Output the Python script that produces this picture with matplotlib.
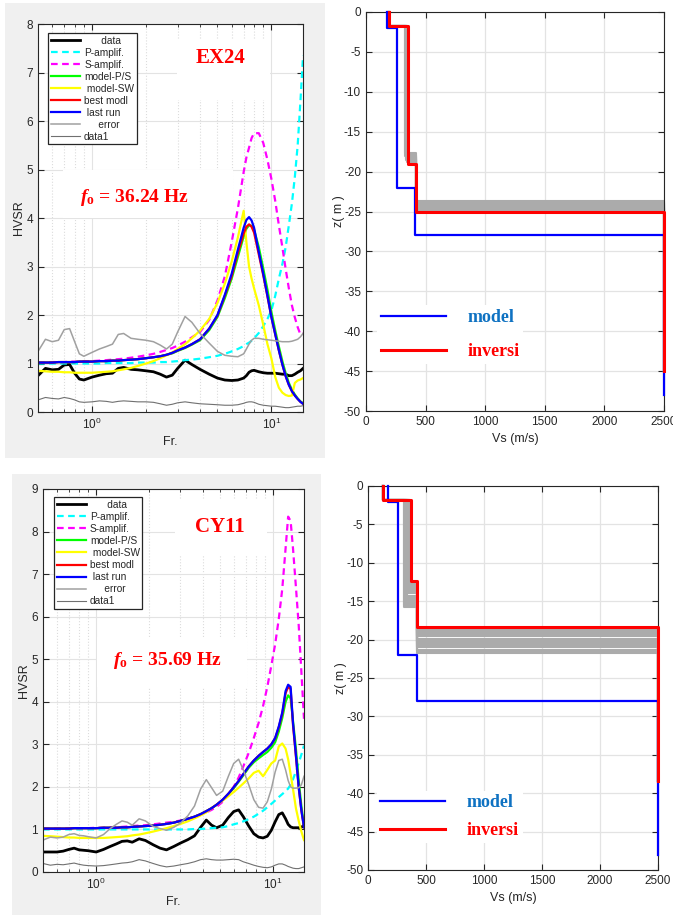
import matplotlib
matplotlib.use('Agg')
import matplotlib.pyplot as plt
from matplotlib.patches import Rectangle
from matplotlib.ticker import NullFormatter

plt.rcParams['mathtext.fontset'] = 'custom'
plt.rcParams['mathtext.rm'] = 'Liberation Serif:bold'
plt.rcParams['mathtext.it'] = 'Liberation Serif:italic:bold'
plt.rcParams['mathtext.bf'] = 'Liberation Serif:bold'
plt.rcParams['font.family'] = ['Liberation Sans', 'DejaVu Sans']
plt.rcParams['axes.unicode_minus'] = False

# ---------------- EX24 HVSR curves ----------------
fr_ex = [0.50, 0.55, 0.60, 0.65, 0.70, 0.75, 0.80, 0.85, 0.90, 1.00,
         1.10, 1.20, 1.30, 1.40, 1.50, 1.65, 1.80, 2.00, 2.20, 2.40,
         2.60, 2.80, 3.00, 3.30, 3.60, 4.00, 4.50, 5.00, 5.50, 6.00,
         6.50, 7.00, 7.25, 7.50, 7.75, 8.00, 8.50, 9.00, 9.50, 10.0,
         10.5, 11.0, 11.5, 12.0, 12.5, 13.0, 13.5, 14.0, 14.5, 15.0]
data_ex = [0.75, 0.90, 0.87, 0.88, 0.97, 0.98, 0.80, 0.68, 0.66, 0.72,
           0.76, 0.79, 0.80, 0.90, 0.92, 0.88, 0.87, 0.85, 0.83, 0.78,
           0.72, 0.76, 0.90, 1.07, 0.98, 0.88, 0.78, 0.70, 0.66, 0.65,
           0.66, 0.70, 0.75, 0.82, 0.85, 0.86, 0.83, 0.81, 0.80, 0.80,
           0.80, 0.79, 0.78, 0.78, 0.75, 0.75, 0.78, 0.82, 0.85, 0.90]
pamp_ex = [1.00, 1.00, 1.00, 1.00, 1.00, 1.00, 1.00, 1.00, 1.00, 1.00,
           1.00, 1.01, 1.01, 1.01, 1.01, 1.01, 1.02, 1.02, 1.02, 1.03,
           1.03, 1.04, 1.05, 1.07, 1.08, 1.10, 1.13, 1.16, 1.20, 1.25,
           1.30, 1.36, 1.40, 1.43, 1.47, 1.52, 1.63, 1.77, 1.92, 2.10,
           2.40, 2.75, 3.05, 3.40, 3.85, 4.30, 4.85, 5.50, 6.40, 7.35]
samp_ex = [1.02, 1.02, 1.03, 1.03, 1.03, 1.04, 1.04, 1.04, 1.05, 1.05,
           1.06, 1.07, 1.08, 1.09, 1.10, 1.12, 1.14, 1.17, 1.20, 1.24,
           1.28, 1.32, 1.37, 1.45, 1.54, 1.65, 1.90, 2.30, 2.80, 3.50,
           4.20, 4.95, 5.25, 5.45, 5.65, 5.75, 5.75, 5.55, 5.20, 4.80,
           4.35, 3.85, 3.40, 2.95, 2.55, 2.20, 1.95, 1.75, 1.60, 1.62]
modps_ex = [1.02, 1.02, 1.02, 1.03, 1.03, 1.03, 1.03, 1.04, 1.04, 1.04,
            1.05, 1.05, 1.06, 1.06, 1.07, 1.08, 1.09, 1.11, 1.13, 1.15,
            1.18, 1.21, 1.26, 1.32, 1.39, 1.48, 1.69, 1.96, 2.35, 2.75,
            3.20, 3.62, 3.78, 3.85, 3.84, 3.76, 3.40, 2.96, 2.52, 2.06,
            1.68, 1.35, 1.05, 0.80, 0.60, 0.46, 0.36, 0.28, 0.22, 0.18]
modsw_ex = [0.85, 0.84, 0.83, 0.83, 0.82, 0.82, 0.81, 0.81, 0.81, 0.81,
            0.82, 0.83, 0.84, 0.86, 0.88, 0.91, 0.95, 1.00, 1.05, 1.11,
            1.17, 1.23, 1.30, 1.40, 1.52, 1.68, 1.92, 2.25, 2.65, 3.10,
            3.60, 4.15, 3.50, 3.00, 2.75, 2.55, 2.20, 1.80, 1.40, 1.10,
            0.72, 0.50, 0.40, 0.35, 0.33, 0.34, 0.60, 0.65, 0.67, 0.70]
best_ex = [1.02, 1.02, 1.02, 1.03, 1.03, 1.03, 1.03, 1.04, 1.04, 1.04,
           1.05, 1.05, 1.06, 1.06, 1.07, 1.08, 1.09, 1.11, 1.13, 1.15,
           1.18, 1.22, 1.27, 1.33, 1.40, 1.50, 1.72, 1.99, 2.40, 2.80,
           3.28, 3.68, 3.82, 3.87, 3.82, 3.70, 3.25, 2.82, 2.38, 1.95,
           1.60, 1.27, 0.98, 0.74, 0.56, 0.43, 0.34, 0.27, 0.21, 0.17]
last_ex = [1.02, 1.02, 1.02, 1.03, 1.03, 1.03, 1.03, 1.04, 1.04, 1.04,
           1.05, 1.05, 1.06, 1.06, 1.07, 1.08, 1.09, 1.11, 1.13, 1.15,
           1.18, 1.22, 1.27, 1.33, 1.40, 1.50, 1.72, 2.00, 2.42, 2.85,
           3.35, 3.80, 3.96, 4.02, 3.95, 3.80, 3.30, 2.85, 2.40, 1.95,
           1.60, 1.27, 0.98, 0.74, 0.56, 0.43, 0.34, 0.27, 0.21, 0.17]
err_ex = [1.25, 1.50, 1.45, 1.48, 1.70, 1.72, 1.45, 1.20, 1.15, 1.23,
          1.30, 1.35, 1.40, 1.60, 1.62, 1.52, 1.50, 1.48, 1.45, 1.38,
          1.30, 1.40, 1.65, 1.97, 1.85, 1.62, 1.42, 1.25, 1.17, 1.15,
          1.14, 1.20, 1.30, 1.40, 1.48, 1.52, 1.52, 1.50, 1.49, 1.48,
          1.47, 1.46, 1.45, 1.45, 1.45, 1.46, 1.48, 1.50, 1.55, 1.62]
data1_ex = [0.25, 0.30, 0.28, 0.27, 0.30, 0.28, 0.25, 0.21, 0.20, 0.21,
            0.23, 0.22, 0.20, 0.22, 0.23, 0.22, 0.21, 0.21, 0.20, 0.17,
            0.14, 0.16, 0.19, 0.21, 0.19, 0.17, 0.16, 0.15, 0.14, 0.14,
            0.15, 0.18, 0.20, 0.21, 0.21, 0.20, 0.16, 0.14, 0.13, 0.12,
            0.12, 0.11, 0.10, 0.09, 0.09, 0.10, 0.11, 0.12, 0.12, 0.13]

# ---------------- CY11 HVSR curves ----------------
fr_cy = [0.50, 0.55, 0.60, 0.65, 0.70, 0.75, 0.80, 0.85, 0.90, 1.00,
         1.10, 1.20, 1.30, 1.40, 1.50, 1.60, 1.75, 1.90, 2.10, 2.30,
         2.50, 2.75, 3.00, 3.30, 3.60, 3.90, 4.20, 4.50, 4.80, 5.20,
         5.60, 6.00, 6.40, 6.80, 7.30, 7.80, 8.30, 8.80, 9.30, 9.80,
         10.3, 10.8, 11.3, 11.8, 12.2, 12.6, 13.0, 13.5, 14.0, 14.5, 15.0]
data_cy = [0.47, 0.47, 0.47, 0.49, 0.53, 0.56, 0.52, 0.51, 0.50, 0.47,
           0.53, 0.60, 0.66, 0.72, 0.73, 0.70, 0.78, 0.74, 0.64, 0.56,
           0.52, 0.60, 0.68, 0.76, 0.85, 1.05, 1.22, 1.10, 1.04, 1.10,
           1.28, 1.42, 1.46, 1.30, 1.08, 0.90, 0.82, 0.80, 0.84, 0.98,
           1.18, 1.35, 1.39, 1.25, 1.12, 1.06, 1.04, 1.04, 1.04, 1.05, 1.10]
pamp_cy = [1.00, 1.00, 1.00, 1.00, 1.00, 1.00, 1.00, 1.00, 1.00, 1.00,
           1.00, 1.00, 1.00, 1.00, 1.00, 1.00, 1.00, 1.00, 1.00, 1.00,
           1.00, 1.00, 1.00, 1.00, 1.01, 1.01, 1.02, 1.03, 1.04, 1.05,
           1.08, 1.12, 1.15, 1.19, 1.24, 1.30, 1.37, 1.44, 1.52, 1.60,
           1.68, 1.76, 1.83, 1.90, 1.96, 2.05, 2.18, 2.36, 2.56, 2.76, 2.97]
samp_cy = [1.02, 1.02, 1.02, 1.02, 1.03, 1.03, 1.03, 1.03, 1.03, 1.04,
           1.04, 1.05, 1.05, 1.06, 1.07, 1.08, 1.09, 1.10, 1.12, 1.14,
           1.16, 1.18, 1.21, 1.25, 1.30, 1.35, 1.40, 1.46, 1.53, 1.65,
           1.82, 2.00, 2.22, 2.48, 2.80, 3.15, 3.50, 3.90, 4.35, 4.85,
           5.35, 5.95, 6.65, 7.60, 8.35, 8.25, 7.60, 6.70, 5.80, 4.70, 3.60]
modps_cy = [1.02, 1.02, 1.02, 1.02, 1.02, 1.03, 1.03, 1.03, 1.03, 1.03,
            1.04, 1.04, 1.04, 1.05, 1.05, 1.06, 1.07, 1.08, 1.09, 1.11,
            1.13, 1.16, 1.20, 1.25, 1.30, 1.36, 1.43, 1.50, 1.58, 1.69,
            1.83, 1.97, 2.12, 2.27, 2.45, 2.58, 2.67, 2.75, 2.82, 2.92,
            3.05, 3.30, 3.62, 4.00, 4.15, 4.08, 3.55, 2.90, 2.15, 1.55, 1.08]
modsw_cy = [0.85, 0.84, 0.83, 0.82, 0.81, 0.81, 0.80, 0.80, 0.80, 0.80,
            0.80, 0.81, 0.82, 0.83, 0.84, 0.86, 0.88, 0.91, 0.95, 0.99,
            1.03, 1.08, 1.13, 1.19, 1.26, 1.33, 1.40, 1.50, 1.58, 1.68,
            1.78, 1.88, 1.98, 2.08, 2.20, 2.33, 2.38, 2.25, 2.40, 2.55,
            2.62, 2.95, 3.02, 2.90, 2.65, 2.30, 1.95, 1.50, 1.20, 0.95, 0.75]
best_cy = [1.02, 1.02, 1.02, 1.02, 1.02, 1.03, 1.03, 1.03, 1.03, 1.03,
           1.04, 1.04, 1.04, 1.05, 1.05, 1.06, 1.07, 1.08, 1.09, 1.11,
           1.13, 1.16, 1.20, 1.25, 1.30, 1.36, 1.43, 1.50, 1.58, 1.70,
           1.84, 1.99, 2.14, 2.30, 2.48, 2.62, 2.73, 2.82, 2.90, 3.00,
           3.14, 3.40, 3.72, 4.20, 4.35, 4.30, 3.45, 2.72, 1.98, 1.44, 1.05]
last_cy = [1.02, 1.02, 1.02, 1.02, 1.02, 1.03, 1.03, 1.03, 1.03, 1.03,
           1.04, 1.04, 1.04, 1.05, 1.05, 1.06, 1.07, 1.08, 1.09, 1.11,
           1.13, 1.16, 1.20, 1.25, 1.30, 1.36, 1.43, 1.50, 1.58, 1.70,
           1.84, 1.99, 2.14, 2.30, 2.48, 2.62, 2.73, 2.82, 2.90, 3.00,
           3.15, 3.42, 3.75, 4.25, 4.40, 4.35, 3.50, 2.75, 2.00, 1.45, 1.05]
err_cy = [0.75, 0.82, 0.80, 0.82, 0.88, 0.90, 0.86, 0.85, 0.83, 0.80,
          0.88, 1.02, 1.12, 1.20, 1.17, 1.10, 1.25, 1.20, 1.07, 1.02,
          0.98, 1.05, 1.15, 1.32, 1.55, 1.95, 2.17, 1.98, 1.80, 1.90,
          2.25, 2.55, 2.65, 2.40, 2.05, 1.70, 1.52, 1.50, 1.65, 1.95,
          2.35, 2.62, 2.65, 2.40, 2.15, 2.00, 1.97, 1.97, 1.98, 2.05, 2.25]
data1_cy = [0.20, 0.16, 0.18, 0.17, 0.19, 0.21, 0.18, 0.16, 0.15, 0.14,
            0.15, 0.17, 0.19, 0.21, 0.22, 0.24, 0.29, 0.26, 0.20, 0.15,
            0.12, 0.14, 0.17, 0.20, 0.24, 0.29, 0.31, 0.29, 0.28, 0.28,
            0.29, 0.30, 0.29, 0.24, 0.20, 0.16, 0.13, 0.11, 0.10, 0.12,
            0.16, 0.19, 0.19, 0.16, 0.13, 0.11, 0.09, 0.08, 0.08, 0.10, 0.12]

# ---------------- Vs profiles ----------------
vs_model_ex = [176, 260, 412, 2500]
z_model_ex = [0, -2.0, -22.0, -28.0, -48.0]
vs_inv_ex = [195, 350, 420, 2500]
z_inv_ex = [0, -1.8, -19.0, -25.0, -45.0]
gray_vs2_ex = [326, 330, 334, 338, 342, 346, 350, 348, 344, 336]
gray_z2_ex = [-17.7, -18.0, -18.2, -18.4, -18.6, -18.8, -19.0, -17.9, -18.3, -18.5]
gray_z3_ex = [-23.7, -23.9, -24.1, -24.3, -24.5, -24.7, -24.9, -23.8, -24.2, -24.6]

vs_model_cy = [172, 258, 422, 2500]
z_model_cy = [0, -2.1, -22.0, -28.0, -48.0]
vs_inv_cy = [132, 370, 420, 2500]
z_inv_cy = [0, -1.8, -12.4, -18.3, -38.4]
gray_vs2_cy = [310, 314, 318, 322, 326, 330, 334, 338, 342, 346, 350, 354, 358, 362, 366]
gray_z2_cy = [-15.7, -15.5, -15.3, -15.1, -14.9, -14.7, -14.5, -14.3, -14.0, -13.8,
              -13.5, -13.3, -13.0, -12.8, -12.6]
gray_z3_cy = [-21.8, -21.5, -21.3, -21.0, -20.8, -20.6, -20.3, -20.1, -19.9, -19.6,
              -19.4, -19.2, -18.9, -18.7, -18.5]

hv_styles = [('      data', 'black', '-', 2.0),
             ('P-amplif.', '#00ffff', '--', 1.6),
             ('S-amplif.', '#ff00ff', '--', 1.6),
             ('model-P/S', '#00ff00', '-', 1.6),
             (' model-SW', '#ffff00', '-', 1.6),
             ('best modl', '#ff0000', '-', 1.6),
             (' last run', '#0000ff', '-', 1.6),
             ('     error', '#a0a0a0', '-', 1.1),
             ('data1', '#707070', '-', 0.8)]

DARK = '#262626'
NARROW = ['Liberation Sans Narrow', 'Liberation Sans']


def hvsr_panel(ax, fr, series, ymax, tag, f0_label, tag_xy, tag_box, f0_xy, f0_box, leg_anchor):
    for vals, (lab, col, ls, lw) in zip(series, hv_styles):
        if ls == '--':
            ax.plot(fr, vals, color=col, lw=lw, dashes=(3, 2), label=lab)
        else:
            ax.plot(fr, vals, color=col, lw=lw, label=lab)
    ax.set_xscale('log')
    ax.set_xlim(0.5, 15)
    ax.set_ylim(0, ymax)
    ax.set_yticks(range(0, ymax + 1))
    ax.xaxis.set_minor_formatter(NullFormatter())
    ax.grid(True, which='major', color='#e3e3e3', lw=0.8)
    ax.grid(True, which='minor', axis='x', color='#dcdcdc', ls=':', lw=0.8)
    ax.tick_params(which='both', direction='in', top=True, right=True,
                   color=DARK, labelcolor=DARK, labelsize=8.5)
    ax.tick_params(which='major', length=4)
    ax.tick_params(which='minor', length=2.5)
    for s in ax.spines.values():
        s.set_color(DARK)
        s.set_linewidth(0.8)
    ax.set_xlabel('Fr.', fontsize=9, color=DARK, labelpad=3)
    ax.set_ylabel('HVSR', fontsize=9, color=DARK, labelpad=1)

    for box in (tag_box, f0_box):
        ax.add_patch(Rectangle((box[0], box[1]), box[2], box[3], transform=ax.transAxes,
                               facecolor='white', edgecolor='none', zorder=1.8))
    ax.text(tag_xy[0], tag_xy[1], tag, transform=ax.transAxes, ha='center', va='center',
            color='red', fontsize=15, fontweight='bold', family='Liberation Serif', zorder=5)
    ax.text(f0_xy[0], f0_xy[1], f0_label, transform=ax.transAxes, ha='center', va='center',
            color='red', fontsize=14, fontweight='bold', family='Liberation Serif', zorder=5)

    leg = ax.legend(loc='upper left', bbox_to_anchor=leg_anchor, fontsize=7.3,
                    handlelength=2.9, handletextpad=0.4, labelspacing=0.2,
                    borderpad=0.25, borderaxespad=0, fancybox=False, framealpha=1)
    leg.get_frame().set_edgecolor(DARK)
    leg.get_frame().set_linewidth(0.9)
    for t in leg.get_texts():
        t.set_color(DARK)


def step_path(vs, z):
    xs, ys = [], []
    for i, v in enumerate(vs):
        xs += [v, v]
        ys += [z[i], z[i + 1]]
    return xs, ys


def vs_panel(ax, model, inv, gray_vs2, gray_z2, gray_z3, leg_anchor, leg_space):
    vs_i, z_i = inv
    for v2, z2, z3 in zip(gray_vs2, gray_z2, gray_z3):
        gx, gy = step_path([vs_i[0], v2, vs_i[2], vs_i[3]], [0, z_i[1], z2, z3, z_i[4]])
        ax.plot(gx, gy, color='#ababab', lw=1.5, clip_on=False)
    mx, my = step_path(*model)
    ax.plot(mx, my, color='#0000ff', lw=1.6, label='model', clip_on=False, zorder=3)
    ix, iy = step_path(*inv)
    ax.plot(ix, iy, color='#ff0000', lw=2.2, label='inversi', clip_on=False, zorder=3.1)
    ax.set_xlim(0, 2500)
    ax.set_ylim(-50, 0)
    ax.set_xticks(range(0, 2501, 500))
    ax.set_yticks(range(-50, 1, 5))
    ax.grid(True, color='#e3e3e3', lw=0.9)
    ax.tick_params(direction='in', top=True, right=True, length=4,
                   color=DARK, labelcolor=DARK, labelsize=8.5)
    for lab in ax.get_xticklabels() + ax.get_yticklabels():
        lab.set_family(NARROW)
    for s in ax.spines.values():
        s.set_color(DARK)
        s.set_linewidth(0.8)
    ax.set_xlabel('Vs (m/s)', fontsize=9, color=DARK, labelpad=4, family=NARROW)
    ax.set_ylabel('z( m )', fontsize=9, color=DARK, family=NARROW)
    ax.yaxis.set_label_coords(-0.072, 0.5)
    ax.legend(loc='center left', bbox_to_anchor=leg_anchor, frameon=True,
              fancybox=False, framealpha=1, edgecolor='none',
              prop={'family': 'Liberation Serif', 'weight': 'bold', 'size': 13},
              labelcolor=['#0f72c2', '#ff0000'], handlelength=3.6,
              handletextpad=1.2, labelspacing=leg_space, borderpad=0.2,
              borderaxespad=0)


fig = plt.figure(figsize=(6.73, 9.15), dpi=100)
fig.add_artist(Rectangle((0.0074, 0.4995), 0.4755, 0.4973, transform=fig.transFigure,
                         facecolor='#f0f0f0', edgecolor='none', zorder=0))
fig.add_artist(Rectangle((0.0178, 0.0), 0.4591, 0.4820, transform=fig.transFigure,
                         facecolor='#f0f0f0', edgecolor='none', zorder=0))

ax1 = fig.add_axes([0.0565, 0.5497, 0.3938, 0.4240])
hvsr_panel(ax1, fr_ex,
           [data_ex, pamp_ex, samp_ex, modps_ex, modsw_ex, best_ex, last_ex, err_ex, data1_ex],
           8, 'EX24', r'$f_{\mathrm{o}}$ = 36.24 Hz',
           (0.687, 0.912), (0.525, 0.804, 0.35, 0.155),
           (0.364, 0.554), (0.094, 0.50, 0.642, 0.124), (0.038, 0.977))

ax2 = fig.add_axes([0.0639, 0.0470, 0.3878, 0.4186])
hvsr_panel(ax2, fr_cy,
           [data_cy, pamp_cy, samp_cy, modps_cy, modsw_cy, best_cy, last_cy, err_cy, data1_cy],
           9, 'CY11', r'$f_{\mathrm{o}}$ = 35.69 Hz',
           (0.678, 0.901), (0.506, 0.828, 0.352, 0.143),
           (0.477, 0.553), (0.207, 0.483, 0.575, 0.131), (0.042, 0.978))

ax3 = fig.add_axes([0.5438, 0.5508, 0.4428, 0.4361])
vs_panel(ax3, (vs_model_ex, z_model_ex), (vs_inv_ex, z_inv_ex),
         gray_vs2_ex, gray_z2_ex, gray_z3_ex, (0.038, 0.192), 0.95)

ax4 = fig.add_axes([0.5468, 0.0492, 0.4309, 0.4197])
vs_panel(ax4, (vs_model_cy, z_model_cy), (vs_inv_cy, z_inv_cy),
         gray_vs2_cy, gray_z2_cy, gray_z3_cy, (0.030, 0.139), 0.6)

fig.savefig('out.png', dpi=100)
